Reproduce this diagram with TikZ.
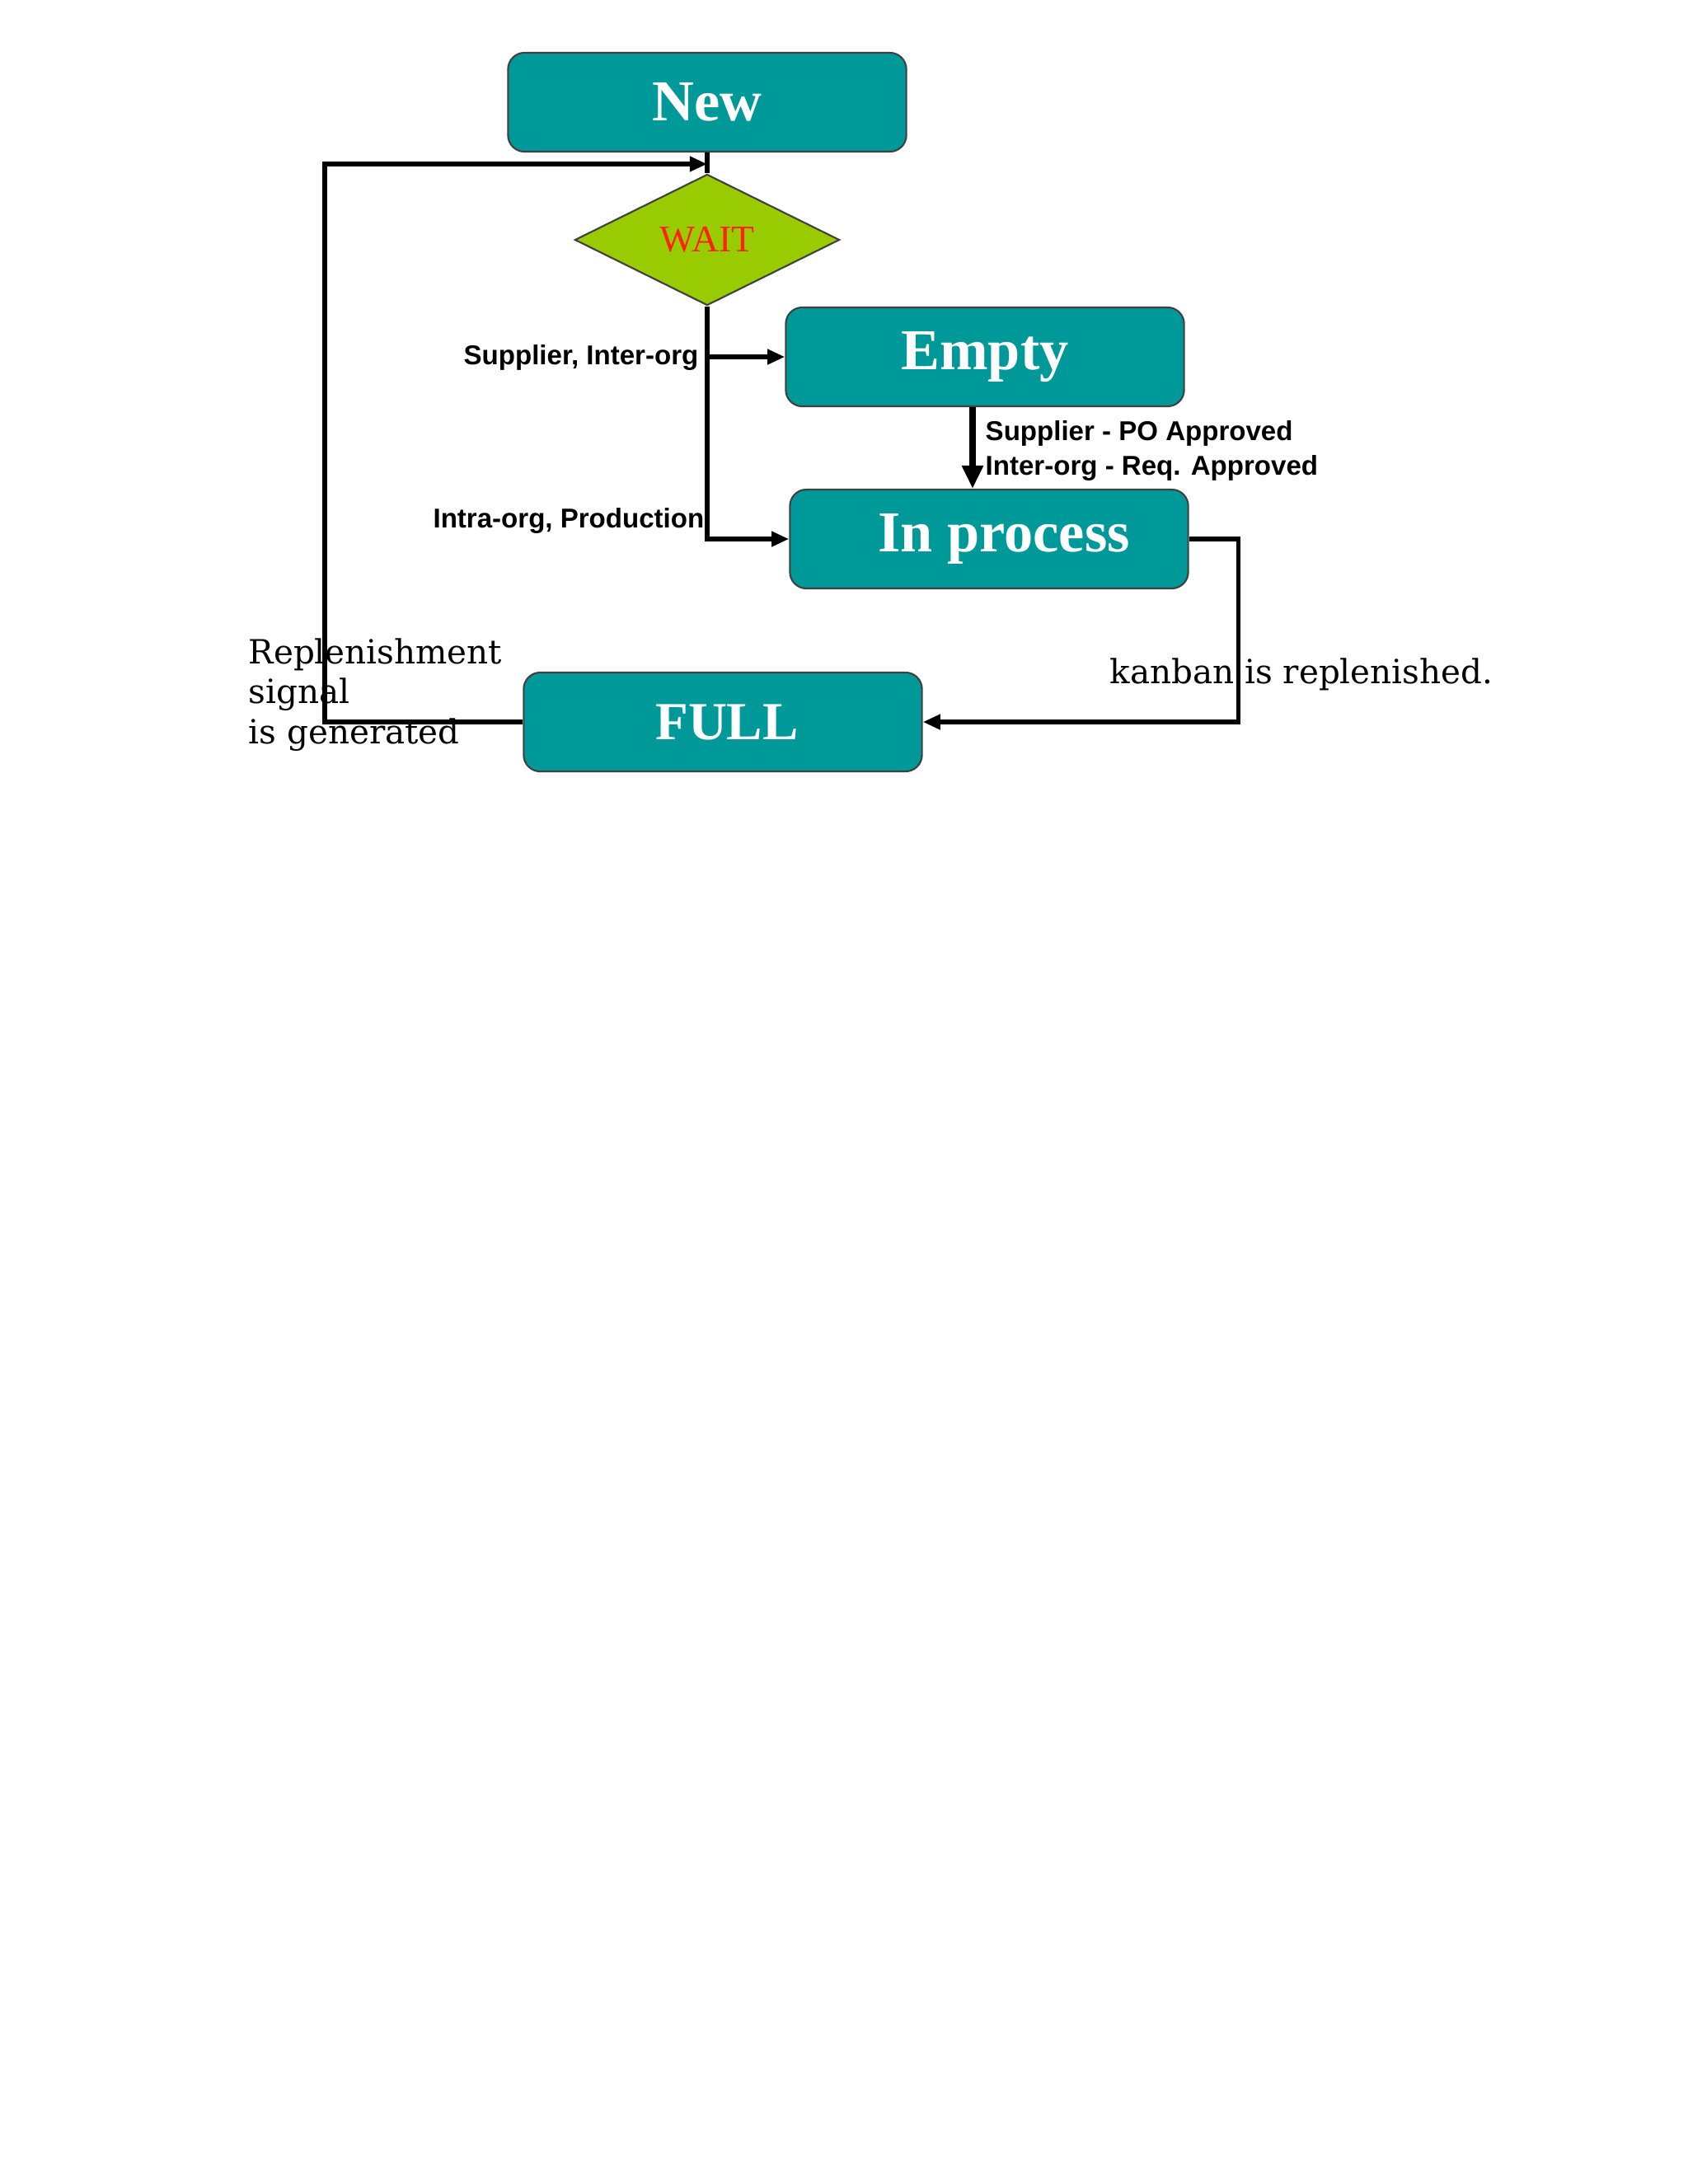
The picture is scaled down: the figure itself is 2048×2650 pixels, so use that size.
\documentclass[tikz,border=0pt]{standalone}
\usepackage{fontspec}
\usepackage{tikz}
\usetikzlibrary{arrows.meta,shapes.geometric}
\setmainfont{Liberation Serif}
\newfontfamily\labelfont{Liberation Sans}
\newfontfamily\notefont{DejaVu Serif}
\definecolor{boxcol}{HTML}{009999}
\definecolor{waitcol}{HTML}{99CC00}
\definecolor{waittext}{HTML}{FF2200}

\begin{document}
\begin{tikzpicture}[x=0.01cm, y=-0.01cm,
  state/.style={draw=black!75, line width=0.6pt, fill=boxcol, rounded corners=0.2cm,
    minimum width=4.83cm, minimum height=1.2cm, inner sep=0pt, text=white,
    font=\fontsize{20}{24}\selectfont\bfseries},
  flow/.style={line width=1.5pt, -{Triangle[length=6pt,width=5pt]}},
  edgelab/.style={font=\labelfont\bfseries\fontsize{9.4}{11.7}\selectfont, inner sep=0pt},
  notelab/.style={font=\notefont\fontsize{11.5}{13.7}\selectfont, inner sep=0pt, align=left}]

\useasboundingbox (0,0) rectangle (2048,2650);

% ------------------------------------------------------------ states
\node[state] (new)  at (858,124) {New};
\node[draw=black!75, line width=0.6pt, fill=waitcol, diamond, aspect=2,
  minimum width=3.21cm, minimum height=1.59cm, inner sep=0pt,
  text=waittext, font=\fontsize{13}{15}\selectfont] (wait) at (858,291) {WAIT};
\node[state] (empty) at (1195,433) {Empty};
\node[state] (proc)  at (1200,654) {\hspace*{0.36cm}In process};
\node[state, font=\fontsize{18.5}{22}\selectfont\bfseries] (full) at (877,876)
  {\hspace*{0.1cm}FULL};

% ------------------------------------------------------------ connectors
\draw[line width=1.5pt] (new.south) -- (wait.north);
\draw[flow] (wait.south) |- (empty.west);
\draw[flow] (wait.south) |- (proc.west);
\draw[line width=2.4pt, -{Triangle[length=8pt,width=7pt]}]
  ([xshift=-0.15cm]empty.south) -- ([xshift=-0.15cm]empty.south |- proc.north);
\draw[flow] (proc.east) -- ++(60,0) |- (full.east);

% replenishment loop back to the wait point
\coordinate (loop) at (394,199);
\draw[flow] (full.west) -| (loop) -- (loop -| wait.north);

% ------------------------------------------------------------ labels
\node[edgelab, anchor=east] (supl) at (848,434) {Supplier, Inter-org};
\node[edgelab, anchor=east] (intra) at (855,632) {Intra-org, Production};
\node[edgelab, anchor=west, align=left] (appr) at (1195,547)
  {Supplier - PO Approved\\Inter-org - Req. Approved};
\node[notelab, anchor=west] (kanban) at (1346,818) {kanban is replenished.};
\node[notelab, anchor=west] (signal) at (301,843)
  {Replenishment\\signal\\is generated};

\end{tikzpicture}
\end{document}
